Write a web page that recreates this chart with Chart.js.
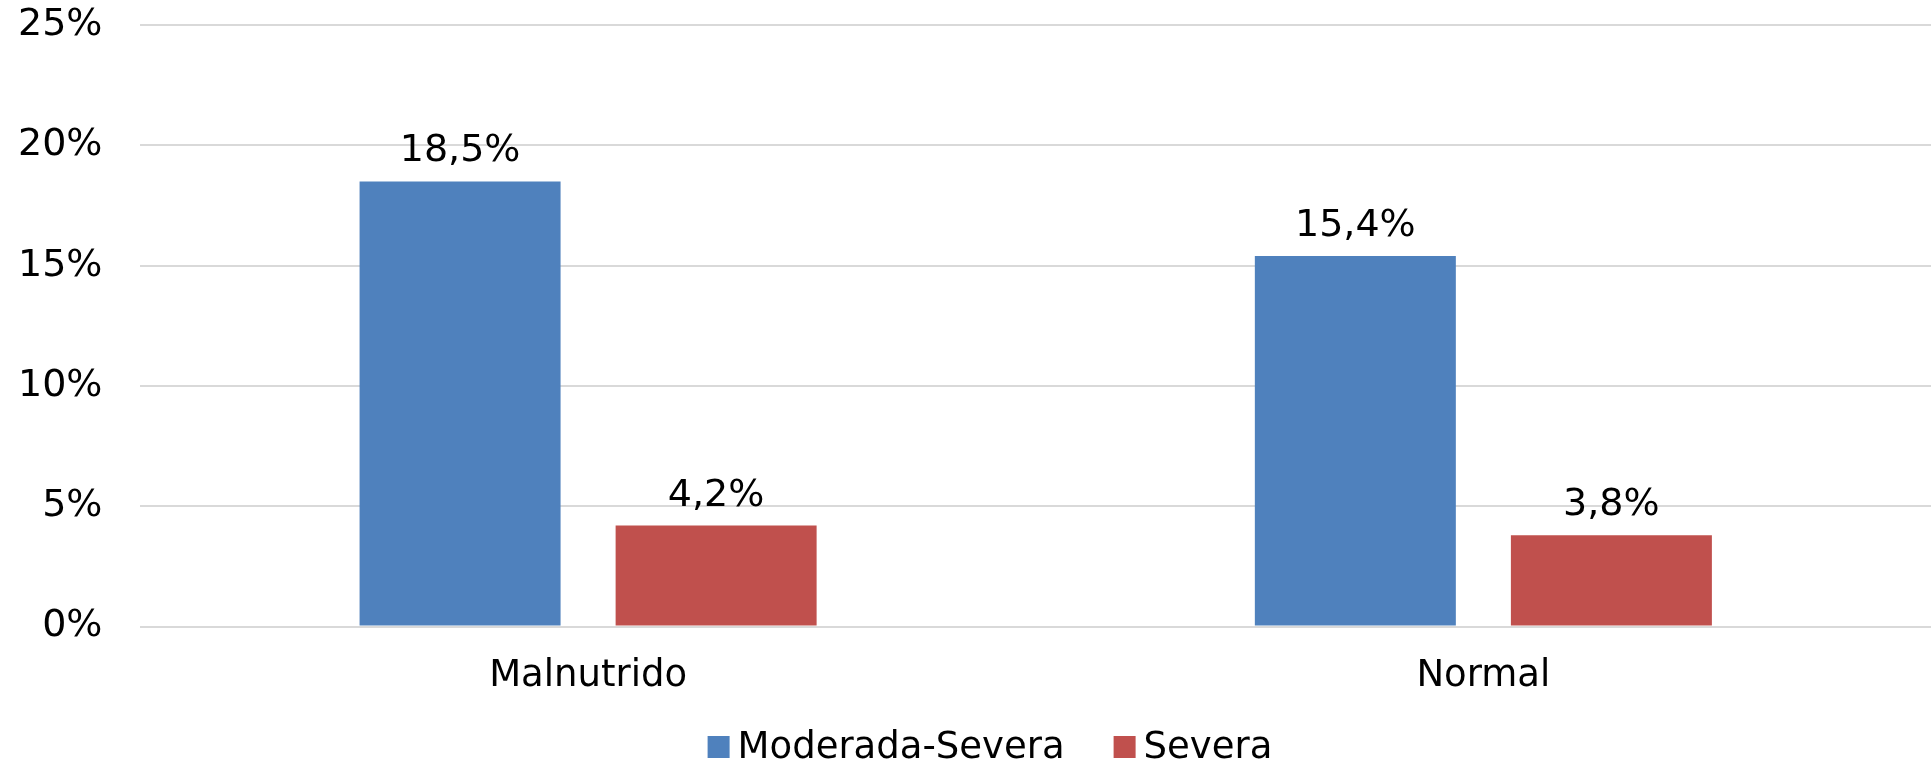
<!DOCTYPE html>
<html>
<head>
<meta charset="utf-8">
<script src="https://cdn.jsdelivr.net/npm/chart.js@4"></script>
<style>
  html,body{margin:0;padding:0;background:#fff;}
  #wrap{width:1931px;height:762px;}
</style>
</head>
<body>
<div id="wrap"><canvas id="chart" width="1931" height="762"></canvas></div>
<script>
// ---- dados ----
const categorias=['Malnutrido','Normal'];
const moderadaSevera=[18.5,15.4];
const severa=[4.2,3.8];
const yTicks=[0,5,10,15,20,25];

const FONT='"DejaVu Sans", Verdana, sans-serif';
const fmtPct=v=>v.toFixed(1).replace('.',',')+'%';

// rótulos em cima das barras
const valueLabels={
  id:'valueLabels',
  afterDatasetsDraw(chart){
    const ctx=chart.ctx;
    ctx.save();
    ctx.font='38px '+FONT;
    ctx.fillStyle='#000';
    ctx.textAlign='center';
    ctx.textBaseline='alphabetic';
    chart.data.datasets.forEach((ds,di)=>{
      chart.getDatasetMeta(di).data.forEach((bar,i)=>{
        ctx.fillText(fmtPct(ds.data[i]),bar.x,bar.y-20);
      });
    });
    ctx.restore();
  }
};

// legenda estilo Excel (caixa colada ao texto)
const excelLegend={
  id:'excelLegend',
  afterDraw(chart,args,opts){
    const ctx=chart.ctx;
    ctx.save();
    ctx.font=opts.size+'px '+FONT;
    ctx.textBaseline='middle';
    const items=chart.data.datasets.map(ds=>({t:ds.label,c:ds.backgroundColor,w:ctx.measureText(ds.label).width}));
    const total=items.reduce((s,it)=>s+opts.box+opts.gap+it.w,0)+opts.itemGap*(items.length-1);
    let x=opts.cx-total/2;
    items.forEach(it=>{
      ctx.fillStyle=it.c;
      ctx.fillRect(x,opts.cy-opts.box/2,opts.box,opts.box);
      x+=opts.box+opts.gap;
      ctx.fillStyle='#000';
      ctx.fillText(it.t,x,opts.cy+1);
      x+=it.w+opts.itemGap;
    });
    ctx.restore();
  }
};

new Chart(document.getElementById('chart').getContext('2d'),{
  type:'bar',
  data:{labels:categorias,datasets:[
    {label:'Moderada-Severa',data:moderadaSevera,backgroundColor:'#4f81bd',categoryPercentage:0.572,barPercentage:0.785},
    {label:'Severa',data:severa,backgroundColor:'#c0504d',categoryPercentage:0.572,barPercentage:0.785}
  ]},
  options:{responsive:false,maintainAspectRatio:false,animation:false,
    layout:{padding:{top:25,left:18,right:-6,bottom:43}},
    plugins:{
      legend:{display:false},
      tooltip:{enabled:false},
      excelLegend:{size:37,box:22,gap:8,itemGap:49,cx:990,cy:747}
    },
    scales:{
      x:{grid:{display:false},border:{display:false},
         ticks:{color:'#000',font:{family:FONT,size:37},padding:20}},
      y:{min:0,max:25,afterBuildTicks:ax=>{ax.ticks=yTicks.map(v=>({value:v}));},
         grid:{color:'#d9d9d9',lineWidth:2,drawTicks:true,tickLength:38,tickColor:'rgba(0,0,0,0)'},border:{display:false},
         ticks:{color:'#000',font:{family:FONT,size:38},padding:0,callback:v=>v+'%'}}
    }
  },
  plugins:[valueLabels,excelLegend]
});
</script>
</body>
</html>
